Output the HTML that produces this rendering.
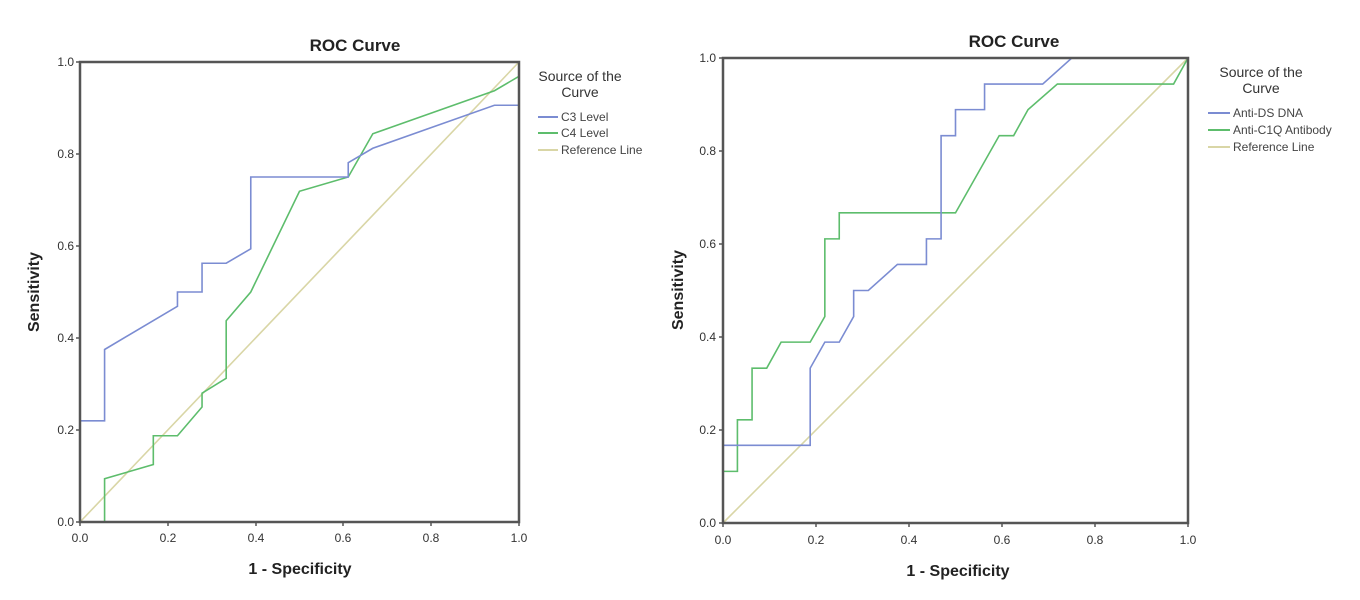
<!DOCTYPE html>
<html><head><style>
body{margin:0;background:#fff}
text{font-family:"Liberation Sans",sans-serif;fill:#333}
.t{font-size:12px;fill:#444;font-family:"Liberation Sans Narrow","Liberation Sans",sans-serif}
.b{font-weight:bold;fill:#222}
.n{font-family:"Liberation Sans Narrow","Liberation Sans",sans-serif}
</style></head><body>
<svg width="1360" height="595" viewBox="0 0 1360 595">
<!-- LEFT -->
<text x="355" y="51" class="b" font-size="17" text-anchor="middle">ROC Curve</text>
<g transform="translate(80,522) scale(439,-460)" fill="none" stroke-width="1.6">
<polyline vector-effect="non-scaling-stroke" stroke="#d9d6a6" points="0,0 1,1"/>
<polyline vector-effect="non-scaling-stroke" stroke="#5dbd6c" points="0,0 0.056,0 0.056,0.094 0.167,0.125 0.167,0.1875 0.222,0.1875 0.278,0.25 0.278,0.28 0.333,0.3125 0.333,0.4375 0.389,0.5 0.5,0.719 0.611,0.75 0.667,0.844 0.944,0.9375 1,0.969 1,1"/>
<polyline vector-effect="non-scaling-stroke" stroke="#7b8cd2" points="0,0 0,0.22 0.056,0.22 0.056,0.375 0.222,0.469 0.222,0.5 0.278,0.5 0.278,0.5625 0.333,0.5625 0.389,0.594 0.389,0.75 0.611,0.75 0.611,0.781 0.667,0.8125 0.944,0.906 1,0.906 1,1"/>
</g>
<rect x="80" y="62" width="439" height="460" fill="none" stroke="#555" stroke-width="2.5"/>
<g stroke="#555" stroke-width="1.5">
<line x1="76" y1="62" x2="80" y2="62"/><line x1="76" y1="154" x2="80" y2="154"/><line x1="76" y1="246" x2="80" y2="246"/><line x1="76" y1="338" x2="80" y2="338"/><line x1="76" y1="430" x2="80" y2="430"/><line x1="76" y1="522" x2="80" y2="522"/>
<line x1="80" y1="522" x2="80" y2="526"/><line x1="168" y1="522" x2="168" y2="526"/><line x1="256" y1="522" x2="256" y2="526"/><line x1="343" y1="522" x2="343" y2="526"/><line x1="431" y1="522" x2="431" y2="526"/><line x1="519" y1="522" x2="519" y2="526"/>
</g>
<g class="t" text-anchor="end">
<text x="74" y="66">1.0</text><text x="74" y="158">0.8</text><text x="74" y="250">0.6</text><text x="74" y="342">0.4</text><text x="74" y="434">0.2</text><text x="74" y="526">0.0</text>
</g>
<g class="t" text-anchor="middle">
<text x="80" y="542">0.0</text><text x="168" y="542">0.2</text><text x="256" y="542">0.4</text><text x="343" y="542">0.6</text><text x="431" y="542">0.8</text><text x="519" y="542">1.0</text>
</g>
<text x="300" y="574" class="b" font-size="16" text-anchor="middle">1 - Specificity</text>
<text transform="translate(39,292) rotate(-90)" class="b" font-size="16" text-anchor="middle">Sensitivity</text>
<text x="580" y="81" font-size="14" text-anchor="middle" fill="#444" class="n">Source of the</text>
<text x="580" y="97" font-size="14" text-anchor="middle" fill="#444" class="n">Curve</text>
<line x1="538" y1="117" x2="558" y2="117" stroke="#7b8cd2" stroke-width="2"/>
<line x1="538" y1="133" x2="558" y2="133" stroke="#5dbd6c" stroke-width="2"/>
<line x1="538" y1="150" x2="558" y2="150" stroke="#d9d6a6" stroke-width="2"/>
<text x="561" y="121" class="t">C3 Level</text>
<text x="561" y="137" class="t">C4 Level</text>
<text x="561" y="154" class="t">Reference Line</text>

<!-- RIGHT -->
<text x="1014" y="47" class="b" font-size="17" text-anchor="middle">ROC Curve</text>
<g transform="translate(723,523) scale(465,-465)" fill="none" stroke-width="1.6">
<polyline vector-effect="non-scaling-stroke" stroke="#d9d6a6" points="0,0 1,1"/>
<polyline vector-effect="non-scaling-stroke" stroke="#5dbd6c" points="0,0 0,0.111 0.031,0.111 0.031,0.222 0.0625,0.222 0.0625,0.333 0.094,0.333 0.125,0.389 0.1875,0.389 0.219,0.444 0.219,0.611 0.25,0.611 0.25,0.667 0.5,0.667 0.594,0.833 0.625,0.833 0.656,0.889 0.719,0.944 0.969,0.944 1,1"/>
<polyline vector-effect="non-scaling-stroke" stroke="#7b8cd2" points="0,0 0,0.167 0.1875,0.167 0.1875,0.333 0.219,0.389 0.25,0.389 0.281,0.444 0.281,0.5 0.3125,0.5 0.375,0.556 0.4375,0.556 0.4375,0.611 0.469,0.611 0.469,0.833 0.5,0.833 0.5,0.889 0.5625,0.889 0.5625,0.944 0.6875,0.944 0.75,1 1,1"/>
</g>
<rect x="723" y="58" width="465" height="465" fill="none" stroke="#555" stroke-width="2.5"/>
<g stroke="#555" stroke-width="1.5">
<line x1="719" y1="58" x2="723" y2="58"/><line x1="719" y1="151" x2="723" y2="151"/><line x1="719" y1="244" x2="723" y2="244"/><line x1="719" y1="337" x2="723" y2="337"/><line x1="719" y1="430" x2="723" y2="430"/><line x1="719" y1="523" x2="723" y2="523"/>
<line x1="723" y1="523" x2="723" y2="527"/><line x1="816" y1="523" x2="816" y2="527"/><line x1="909" y1="523" x2="909" y2="527"/><line x1="1002" y1="523" x2="1002" y2="527"/><line x1="1095" y1="523" x2="1095" y2="527"/><line x1="1188" y1="523" x2="1188" y2="527"/>
</g>
<g class="t" text-anchor="end">
<text x="716" y="62">1.0</text><text x="716" y="155">0.8</text><text x="716" y="248">0.6</text><text x="716" y="341">0.4</text><text x="716" y="434">0.2</text><text x="716" y="527">0.0</text>
</g>
<g class="t" text-anchor="middle">
<text x="723" y="544">0.0</text><text x="816" y="544">0.2</text><text x="909" y="544">0.4</text><text x="1002" y="544">0.6</text><text x="1095" y="544">0.8</text><text x="1188" y="544">1.0</text>
</g>
<text x="958" y="576" class="b" font-size="16" text-anchor="middle">1 - Specificity</text>
<text transform="translate(683,290) rotate(-90)" class="b" font-size="16" text-anchor="middle">Sensitivity</text>
<text x="1261" y="77" font-size="14" text-anchor="middle" fill="#444" class="n">Source of the</text>
<text x="1261" y="93" font-size="14" text-anchor="middle" fill="#444" class="n">Curve</text>
<line x1="1208" y1="113" x2="1230" y2="113" stroke="#7b8cd2" stroke-width="2"/>
<line x1="1208" y1="130" x2="1230" y2="130" stroke="#5dbd6c" stroke-width="2"/>
<line x1="1208" y1="147" x2="1230" y2="147" stroke="#d9d6a6" stroke-width="2"/>
<text x="1233" y="117" class="t">Anti-DS DNA</text>
<text x="1233" y="134" class="t">Anti-C1Q Antibody</text>
<text x="1233" y="151" class="t">Reference Line</text>
</svg>
</body></html>
